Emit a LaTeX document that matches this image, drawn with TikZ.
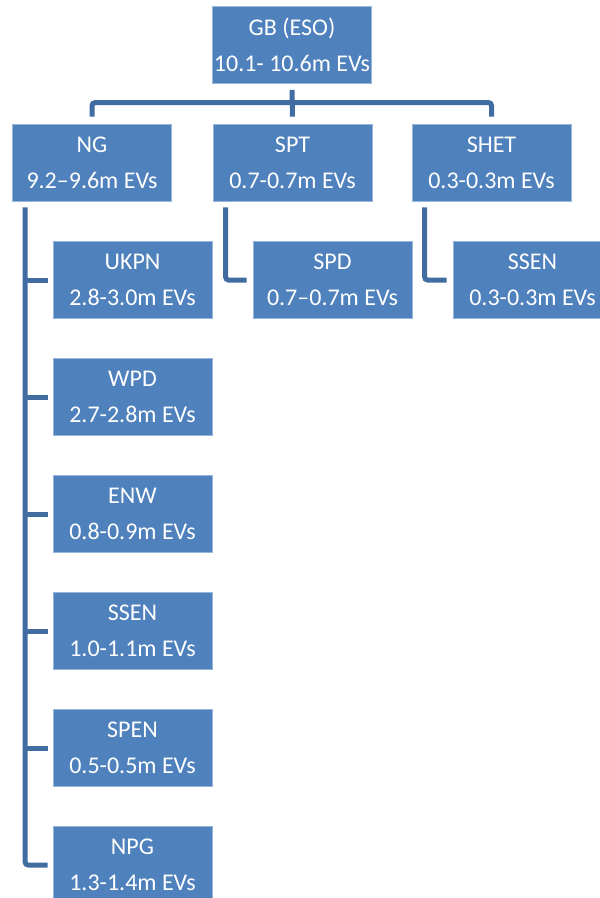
\documentclass[tikz,border=0pt]{standalone}
\usepackage{fontspec}
\setmainfont{Carlito}
\definecolor{boxblue}{RGB}{79,129,189}
\definecolor{lineblue}{RGB}{64,108,162}
\definecolor{rimblue}{RGB}{150,182,222}

\begin{document}
\begin{tikzpicture}[x=1pt,y=-1pt]

                \tikzset{unit/.style = {shape=rectangle,fill=boxblue,draw=rimblue,line width=0.8pt,
                        minimum width=159pt,minimum height=77pt,inner sep=0pt,align=center,
                        text=white,font=\fontsize{24}{36}\selectfont}}
                \tikzset{edge/.style = {draw=lineblue,line width=5pt,rounded corners=3pt}}

                \useasboundingbox (0,0) rectangle (600,898);

                \node[unit] (gb) at (292,45) {GB (ESO)\\10.1- 10.6m EVs};

                \node[unit] (ng) at (92,162.5) {NG\\9.2--9.6m EVs};
                \node[unit] (spt) at (292.5,162.5) {SPT\\0.7-0.7m EVs};
                \node[unit] (shet) at (491.5,162.5) {SHET\\0.3-0.3m EVs};

                \node[unit] (ukpn) at (132.5,280) {UKPN\\2.8-3.0m EVs};
                \node[unit] (wpd) at (132.5,397) {WPD\\2.7-2.8m EVs};
                \node[unit] (enw) at (132.5,514) {ENW\\0.8-0.9m EVs};
                \node[unit] (ssen) at (132.5,631) {SSEN\\1.0-1.1m EVs};
                \node[unit] (spen) at (132.5,748) {SPEN\\0.5-0.5m EVs};
                \node[unit] (npg) at (132.5,865) {NPG\\1.3-1.4m EVs};

                \node[unit] (spd) at (332.5,280) {SPD\\0.7--0.7m EVs};
                \node[unit] (shetssen) at (532.5,280) {SSEN\\0.3-0.3m EVs};

                \draw[edge] ([yshift=-6pt]gb.south) -- ([yshift=7pt]spt.north);
                \draw[edge] ([yshift=7pt]ng.north) |- ([yshift=21pt]spt.north) -| ([yshift=7pt]shet.north);

                \coordinate (ngrail) at ([xshift=13pt,yshift=-6pt]ng.south west);
                \draw[edge] (ngrail) |- ([xshift=-5pt]npg.west);
                \draw[edge] (ngrail |- ukpn.west) -- ([xshift=-5pt]ukpn.west);
                \draw[edge] (ngrail |- wpd.west) -- ([xshift=-5pt]wpd.west);
                \draw[edge] (ngrail |- enw.west) -- ([xshift=-5pt]enw.west);
                \draw[edge] (ngrail |- ssen.west) -- ([xshift=-5pt]ssen.west);
                \draw[edge] (ngrail |- spen.west) -- ([xshift=-5pt]spen.west);

                \draw[edge] ([xshift=13pt,yshift=-6pt]spt.south west) |- ([xshift=-6pt]spd.west);
                \draw[edge] ([xshift=13pt,yshift=-6pt]shet.south west) |- ([xshift=-6pt]shetssen.west);
\end{tikzpicture}
\end{document}
